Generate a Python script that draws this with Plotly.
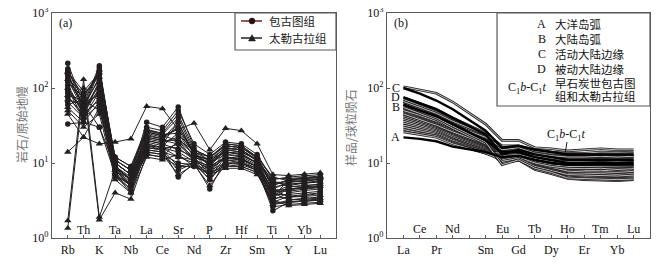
import math
import plotly.graph_objects as go

W, H = 665, 267

# ---------------- data: (a) primitive-mantle normalised spider diagram ----------------
spider_elements = ["Rb", "Th", "K", "Ta", "Nb", "La", "Ce", "Sr", "Nd", "P",
                   "Zr", "Hf", "Sm", "Ti", "Y", "Yb", "Lu"]

baogutu = [  # 包古图组 (circles)
    [214, 60, 198, 10, 7, 35, 30, 56, 16, 10, 17, 16, 12, 4.5, 5.5, 5.8, 6.0],
    [170, 70, 160, 11, 8, 28, 25, 45, 15, 12, 18, 17, 12, 5.0, 6.0, 6.2, 6.4],
    [150, 55, 140, 9, 6, 25, 22, 30, 14, 9, 15, 14, 11, 4.0, 5.0, 5.4, 5.6],
    [130, 50, 120, 8, 6, 22, 20, 20, 13, 8, 14, 13, 10, 3.5, 4.5, 4.8, 5.0],
    [110, 45, 100, 8, 5, 20, 18, 15, 12, 7, 13, 12, 9.5, 3.2, 4.0, 4.3, 4.5],
    [95, 40, 90, 7, 5, 18, 16, 12, 11, 6.5, 12, 11, 9, 3.0, 3.6, 3.8, 4.0],
    [33, 35, 30, 7, 4, 15, 14, 8, 10, 6, 10, 10, 8, 2.8, 3.2, 3.4, 3.5],
    [85, 65, 80, 9, 6, 16, 15, 6.5, 10, 4.5, 11, 10, 8.5, 2.3, 3.0, 3.1, 3.2],
    [120, 75, 170, 12, 9, 30, 27, 50, 18, 13, 19, 18, 13, 6.0, 6.5, 6.8, 7.0],
    [140, 60, 130, 10, 7, 24, 21, 35, 13, 11, 16, 15, 11, 4.8, 5.2, 5.5, 5.8],
    [100, 50, 110, 9, 6, 19, 17, 25, 12, 10, 13, 12.5, 10, 4.2, 4.2, 4.5, 4.7],
    [75, 45, 70, 8, 5, 16, 15, 18, 11, 9, 12, 11.5, 9, 3.8, 3.8, 4.0, 4.2],
    [160, 80, 150, 11, 8, 27, 24, 40, 14, 12, 17, 16, 11.5, 5.5, 5.6, 5.9, 6.1],
    [65, 40, 60, 7, 4.5, 14, 13, 10, 9.5, 8, 10, 9.5, 8, 3.0, 3.0, 3.2, 3.3],
    [180, 55, 185, 10, 7, 26, 23, 28, 13, 9.5, 15.5, 15, 10.5, 3.6, 4.8, 5.0, 5.2],
    [90, 50, 95, 8.5, 6, 21, 19, 22, 12.5, 11, 14, 13.5, 10, 4.4, 4.4, 4.6, 4.8],
    [60, 70, 50, 9, 5, 13, 12, 9, 9, 7.5, 9, 9, 7.5, 2.6, 2.8, 2.9, 3.0],
    [125, 60, 30, 9, 6, 17, 16, 14, 10.5, 8.5, 11.5, 11, 9, 3.4, 3.5, 3.7, 3.9],
]

tailegula = [  # 太勒古拉组 (triangles)
    [1.7, 130, 1.9, 8, 5, 20, 18, 35, 13, 10, 15, 14, 11, 5.0, 6.0, 6.3, 6.5],
    [1.35, 100, 1.75, 4, 3.3, 13, 12, 20, 11, 9, 12, 11, 9, 4.0, 4.5, 4.7, 4.9],
    [14, 22, 18, 19, 21, 57, 53, 28, 34, 15, 29, 27, 18, 7.0, 6.8, 7.1, 7.4],
    [45, 22, 55, 7, 5, 15, 14, 12, 10, 7, 10, 10, 8, 3.5, 6.0, 6.3, 6.5],
    [70, 60, 85, 10, 7, 22, 20, 18, 12, 10, 14, 13, 10, 5.5, 5.2, 5.4, 5.6],
    [160, 50, 175, 11, 8, 28, 24, 25, 14, 11, 18, 17, 12, 6.2, 6.2, 6.5, 6.7],
    [55, 35, 65, 6, 4, 12, 11, 13, 9, 7, 8.5, 8.5, 7, 3.2, 2.7, 2.8, 2.9],
    [100, 45, 120, 8, 5.5, 18, 16, 16, 11, 8, 12, 11.5, 9, 4.5, 3.5, 3.6, 3.7],
    [130, 85, 140, 9, 6.5, 23, 21, 30, 13.5, 9.5, 16, 15, 11, 5.8, 4.8, 5.0, 5.2],
    [80, 40, 75, 7.5, 5, 17, 15, 9, 10, 6, 11, 10.5, 8.5, 4.0, 3.2, 3.3, 3.4],
    [165, 90, 160, 12, 9, 26, 23, 20, 15, 12, 17, 16, 12, 6.5, 5.8, 6.0, 6.2],
    [50, 30, 45, 6.5, 4.5, 14, 13, 7, 9.5, 5, 9.5, 9, 7.5, 2.8, 3.0, 3.1, 3.2],
]

# ---------------- data: (b) chondrite-normalised REE ----------------
ree_elements = ["La", "Ce", "Pr", "Nd", "Pm", "Sm", "Eu", "Gd", "Tb", "Dy",
                "Ho", "Er", "Tm", "Yb", "Lu"]
# values listed without Pm (La Ce Pr Nd | Sm Eu Gd Tb Dy Ho Er Tm Yb Lu)
ref_A = [22, 21, 19.5, 16.5, 14, 12, 12.5, 11, 10, 9.5, 9.5, 9.5, 9.5, 9.5]
ref_B = [60, 50, 42, 33, 20, 14, 14, 12, 11, 10, 10, 10, 10, 10]
ref_C = [100, 84, 68, 52, 27, 16, 17, 15, 14, 13, 13, 13, 13, 13]
ref_D = [75, 62, 52, 40, 24, 13, 15, 13, 12, 11, 11, 11, 11, 11]
ref_labels = ["A", "B", "C", "D"]

ree_samples = [
    [104, 94, 85, 65, 33, 20, 20, 16, 15.5, 14.5, 15, 15.5, 15, 15],
    [75, 63, 52, 40, 25, 15, 16, 14, 13, 12.5, 12.5, 12.8, 12.5, 12.8],
    [70, 58, 48, 37, 23, 14, 15.5, 13, 12.5, 12, 12, 12, 12, 12.2],
    [65, 54, 45, 35, 22, 13, 15, 12.5, 12, 11, 11, 11.2, 11, 11.3],
    [62, 52, 42, 33, 21, 14, 14.5, 12, 11, 10.5, 10.5, 10.5, 10.3, 10.5],
    [60, 50, 41, 32, 20, 13.5, 14, 11.5, 10.5, 10, 10, 10, 9.8, 10],
    [58, 48, 40, 31, 19.5, 13, 13.5, 11, 10, 9.5, 9.5, 9.5, 9.3, 9.5],
    [56, 47, 38, 30, 19, 12.5, 13, 10.5, 9.5, 9, 9, 9, 8.8, 9],
    [54, 45, 37, 29, 18.5, 12, 12.5, 10, 9, 8.5, 8.5, 8.5, 8.3, 8.5],
    [52, 44, 36, 28, 18, 11.5, 12, 9.5, 8.5, 8, 8, 8, 7.8, 8],
    [50, 42, 35, 27, 17.5, 11, 11.5, 9, 8, 7.5, 7.5, 7.5, 7.4, 7.5],
    [48, 40, 33, 26, 17, 12, 12, 9.5, 8.5, 7, 7, 7, 7, 7.2],
    [46, 39, 32, 25, 16.5, 11.5, 11.5, 9, 8, 6.8, 6.6, 6.5, 6.5, 6.6],
    [44, 37, 31, 24, 16, 11, 11, 8.5, 7.5, 6.5, 6.3, 6.2, 6.2, 6.3],
    [42, 36, 30, 23.5, 16, 10, 11, 8.2, 7.2, 6.2, 6, 5.9, 5.8, 6],
    [40, 34, 29, 23, 15.5, 12, 12, 10, 9, 8, 8, 8, 7.8, 8],
    [38, 33, 28, 22, 15, 11.5, 11.5, 9.8, 8.8, 7.8, 7.6, 7.6, 7.5, 7.7],
    [36, 31, 27, 21, 14.5, 12, 12, 10.5, 9.5, 9, 9, 9, 9, 9.2],
    [34, 30, 26, 20.5, 14.5, 13, 13, 11, 10, 9.5, 9.6, 9.8, 9.6, 9.8],
    [32, 28, 25, 20, 14, 13, 13.5, 12, 11, 10.5, 10.5, 10.5, 10.3, 10.5],
    [30, 27, 24, 19, 14, 13.5, 14, 12.5, 11.5, 11, 11, 11.2, 11, 11.2],
    [28, 25, 23, 18.5, 13.5, 12.5, 13, 11.5, 10.5, 9.8, 10, 10.2, 10, 10.2],
    [26, 24, 22, 18, 13.5, 11, 12, 10, 9, 8.5, 8.4, 8.5, 8.2, 8.4],
    [66, 55, 46, 36, 24, 17, 17, 15, 14, 13.5, 13.5, 14, 13.8, 14],
    [57, 48, 40, 32, 22, 16, 16.5, 14.5, 13.5, 13, 13, 13.2, 13, 13.3],
    [50, 43, 36, 29, 20, 15, 16, 13.5, 12.5, 12, 12, 12.3, 12, 12.3],
    [45, 38, 32, 26, 18, 10, 11, 9, 8, 7.2, 7.2, 7.2, 7, 7.2],
    [55, 46, 38, 29, 18, 10.5, 11.5, 9, 8, 7, 6.9, 6.8, 6.7, 6.9],
    [60, 49, 40, 31, 19, 9.5, 11, 8.5, 7.5, 6.3, 6.2, 6.1, 6, 6.1],
]

y_tickvals = [1, 10, 100, 1000]
y_ticktext = ["10<sup>0</sup>", "10<sup>1</sup>", "10<sup>2</sup>", "10<sup>3</sup>"]

# ---------------- figure ----------------
FONT = "Liberation Serif, Times New Roman, serif"
CJK = "Noto Sans CJK SC, sans-serif"
INK = "#231f20"
FRAME = "#5a5a5a"
OFF = 8  # page offset of the plot in the browser


def px(x):
    return (x - OFF) / W


def py(y):
    return 1 - (y - OFF) / H


def with_pm(row):
    return row[:4] + [None] + row[4:]


fig = go.Figure()
xs_a = list(range(len(spider_elements)))
xs_b = list(range(len(ree_elements)))

for row in baogutu:
    fig.add_trace(go.Scatter(x=xs_a, y=row, mode="lines+markers", xaxis="x", yaxis="y",
                             line=dict(color=INK, width=1),
                             marker=dict(symbol="circle", size=5.5, color=INK),
                             showlegend=False, hoverinfo="skip"))
for row in tailegula:
    fig.add_trace(go.Scatter(x=xs_a, y=row, mode="lines+markers", xaxis="x", yaxis="y",
                             line=dict(color=INK, width=1),
                             marker=dict(symbol="triangle-up", size=6.5, color=INK),
                             showlegend=False, hoverinfo="skip"))

for row in ree_samples:
    yv = with_pm(row)
    fig.add_trace(go.Scatter(x=xs_b, y=yv, mode="lines", xaxis="x2", yaxis="y2",
                             connectgaps=True, line=dict(color=INK, width=2.6),
                             showlegend=False, hoverinfo="skip"))
    fig.add_trace(go.Scatter(x=xs_b, y=yv, mode="lines", xaxis="x2", yaxis="y2",
                             connectgaps=True, line=dict(color="white", width=0.7),
                             showlegend=False, hoverinfo="skip"))
for ref in [ref_A, ref_B, ref_C, ref_D]:
    fig.add_trace(go.Scatter(x=xs_b, y=with_pm(ref), mode="lines", xaxis="x2", yaxis="y2",
                             connectgaps=True, line=dict(color="black", width=2.4),
                             showlegend=False, hoverinfo="skip"))

dom_y = [py(238), py(13)]
axis_common = dict(showline=True, linecolor=FRAME, linewidth=1.2, mirror=True,
                   showgrid=False, zeroline=False, ticks="inside", ticklen=3,
                   tickcolor=FRAME, automargin=False, ticklabeloverflow="allow",
                   tickfont=dict(family=FONT, size=12, color="#111"))

fig.update_layout(
    width=W, height=H, autosize=False,
    margin=dict(l=0, r=0, t=0, b=0, pad=0, autoexpand=False),
    paper_bgcolor="white", plot_bgcolor="rgba(0,0,0,0)", showlegend=False,
    xaxis=dict(domain=[px(52), px(336)], range=[-1, 17], anchor="y",
               tickvals=xs_a,
               ticktext=[e if i % 2 == 0 else "" for i, e in enumerate(spider_elements)],
               **axis_common),
    yaxis=dict(domain=dom_y, type="log", range=[0, 3], anchor="x",
               tickvals=y_tickvals, ticktext=y_ticktext, **axis_common),
    xaxis2=dict(domain=[px(387), px(650)], range=[-1, 15], anchor="y2",
                tickvals=xs_b,
                ticktext=[e if e in ("La", "Pr", "Sm", "Gd", "Dy", "Er", "Yb") else ""
                          for e in ree_elements],
                **axis_common),
    yaxis2=dict(domain=dom_y, type="log", range=[0, 3], anchor="x2",
                tickvals=y_tickvals, ticktext=y_ticktext, **axis_common),
)

ann = []


def note(x, y, text, font, xanchor="center", **kw):
    d = dict(x=px(x), y=py(y), xref="paper", yref="paper", text=text, showarrow=False,
             xanchor=xanchor, yanchor="middle", font=font)
    d.update(kw)
    ann.append(d)


LAT = dict(family=FONT, size=12, color="#111")

# inner (upper-row) element labels
for i, e in enumerate(spider_elements):
    if i % 2 == 1:
        ann.append(dict(x=i, y=py(230), xref="x", yref="paper", text=e, showarrow=False,
                        xanchor="center", yanchor="middle", font=LAT))
for i, e in enumerate(ree_elements):
    if e in ("Ce", "Nd", "Eu", "Tb", "Ho", "Tm", "Lu"):
        ann.append(dict(x=i, y=py(229), xref="x2", yref="paper", text=e, showarrow=False,
                        xanchor="center", yanchor="middle", font=LAT))

# panel labels
note(57, 23, "(a)", LAT, xanchor="left")
note(392, 23, "(b)", LAT, xanchor="left")

# y-axis titles
note(22, 125, "岩石/原始地幔", dict(family=CJK, size=12, color="#777"), textangle=-90)
note(350, 127, "样品/球粒陨石", dict(family=CJK, size=12, color="#777"), textangle=-90)

# legend (a) texts
note(267, 21, "包古图组", dict(family=CJK, size=11.5, color="#222"), xanchor="left")
note(267, 38, "太勒古拉组", dict(family=CJK, size=11.5, color="#222"), xanchor="left")

# legend (b) texts
CJK_S = dict(family=CJK, size=11.5, color="#111")
leg_b = [("A", "大洋岛弧", 24), ("B", "大陆岛弧", 39), ("C", "活动大陆边缘", 54),
         ("D", "被动大陆边缘", 69)]
for key, txt, yy in leg_b:
    note(548, yy, key, LAT, xanchor="right")
    note(553, yy, txt, CJK_S, xanchor="left")
note(548, 88, "C<sub>1</sub><i>b</i>-C<sub>1</sub><i>t</i>", LAT, xanchor="right")
note(553, 83, "早石炭世包古图", CJK_S, xanchor="left")
note(553, 96, "组和太勒古拉组", CJK_S, xanchor="left")

# reference curve labels A-D (at La)
ref_vals = {"A": ref_A[0], "B": ref_B[0], "C": ref_C[0], "D": ref_D[0]}
ref_dy = {"A": 0, "B": -2, "C": 0, "D": 0}
for k in ref_labels:
    ann.append(dict(x=0, y=math.log10(ref_vals[k]), xref="x2", yref="y2", text=k,
                    xanchor="right", yanchor="middle", xshift=-1, yshift=ref_dy[k],
                    showarrow=False, font=LAT))

# C1b-C1t label
note(566, 135, "C<sub>1</sub><i>b</i>-C<sub>1</sub><i>t</i>", LAT)

fig.update_layout(annotations=ann)

# legend boxes
fig.add_shape(type="rect", xref="paper", yref="paper", x0=px(235), x1=px(336), y0=py(50), y1=py(13),
              line=dict(color=FRAME, width=1.2), fillcolor="rgba(0,0,0,0)", layer="above")
fig.add_shape(type="rect", xref="paper", yref="paper", x0=px(497), x1=px(650), y0=py(106), y1=py(13),
              line=dict(color=FRAME, width=1.2), fillcolor="rgba(0,0,0,0)", layer="above")

# legend keys of (a)
fig.add_shape(type="line", xref="paper", yref="paper", x0=px(241), x1=px(262), y0=py(21), y1=py(21),
              line=dict(color="#6e2323", width=1.5))
fig.add_shape(type="circle", xref="paper", yref="paper", x0=px(249), x1=px(255), y0=py(24), y1=py(18),
              line=dict(color="#2a1010", width=0.5), fillcolor="#2a1010")
fig.add_shape(type="line", xref="paper", yref="paper", x0=px(241), x1=px(262), y0=py(38), y1=py(38),
              line=dict(color=INK, width=1.5))
fig.add_shape(type="path", xref="paper", yref="paper",
              path=f"M {px(248.5)} {py(41)} L {px(255.5)} {py(41)} L {px(252)} {py(34.5)} Z",
              line=dict(color=INK, width=0.5), fillcolor=INK)
# leader line of the C1b-C1t label
fig.add_shape(type="line", xref="paper", yref="paper", x0=px(567), x1=px(565), y0=py(142), y1=py(154),
              line=dict(color=INK, width=1))

fig.write_html("out.html")
